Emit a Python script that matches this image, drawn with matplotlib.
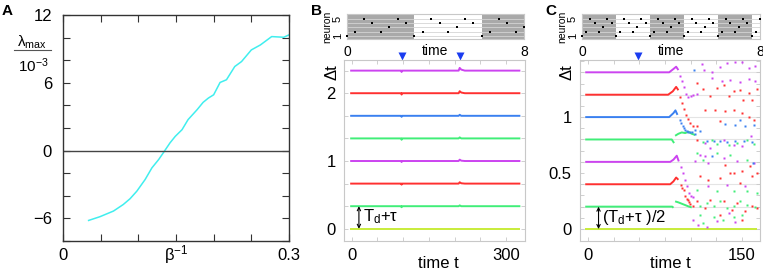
import numpy as np
import matplotlib
matplotlib.use('Agg')
import matplotlib.pyplot as plt
import matplotlib.transforms as mtransforms

plt.rcParams['font.family'] = ['Liberation Sans', 'DejaVu Sans']
plt.rcParams['mathtext.fontset'] = 'custom'
plt.rcParams['mathtext.rm'] = 'Liberation Sans'
plt.rcParams['mathtext.it'] = 'Liberation Sans:italic'
plt.rcParams['mathtext.bf'] = 'Liberation Sans:bold'

# ---------------- data ----------------
# Panel A: largest Lyapunov exponent vs beta^-1
A_x = [0.034, 0.049, 0.067, 0.080, 0.089, 0.098, 0.109, 0.118, 0.127, 0.133,
       0.142, 0.149, 0.158, 0.166, 0.178, 0.186, 0.193, 0.200, 0.2085, 0.217,
       0.228, 0.237, 0.250, 0.262, 0.277, 0.293, 0.300]
A_y = [-6.18, -5.85, -5.35, -4.77, -4.26, -3.59, -2.56, -1.53, -0.79, -0.21,
       0.68, 1.26, 1.85, 2.74, 3.62, 4.27, 4.65, 4.94, 6.03, 6.27,
       7.44, 7.88, 8.91, 9.35, 10.09, 10.03, 10.24]

# raster: firing order of neurons within one block of 8 spikes
spike_order = [1, 2, 5, 4, 2, 3, 5, 4]
B_isi = 8 / 21
C_isi = 8 / 42
B_shaded = [(0, 3.05), (6.1, 8.2)]
C_shaded = [(0, 1.52), (3.05, 4.57), (6.1, 7.62)]

line_colors = ['#c8ec3a', '#40ee78', '#ff3030', '#cc44f0',
               '#40ee78', '#3a80f0', '#ff3030', '#cc44f0']

# Panel B: spike-time differences, perturbed at t=97 and t=210
B_levels = [0, 1/3, 2/3, 1, 4/3, 5/3, 2, 7/3]
B_t = [-3, 96, 97, 98, 208, 210, 213, 220, 328]
B_dev = [
    [0, 0, 0, 0, 0, 0, 0, 0, 0],
    [0, 0, -0.015, 0, 0, 0.012, 0, 0, 0],
    [0, 0, -0.015, 0, 0, 0.02, 0.005, 0, 0],
    [0, 0, -0.015, 0, 0, 0.02, 0.005, 0, 0],
    [0, 0, -0.02, 0, 0, 0.015, 0, 0, 0],
    [0, 0, -0.015, 0, 0, 0.015, 0, 0, 0],
    [0, 0, -0.02, 0, 0, 0.03, 0.01, 0, 0],
    [0, 0, -0.02, 0, 0, 0.04, 0.015, 0, 0],
]
B_kicks = [97, 210]

# Panel C: perturbation at t=49 leads to chaotic dynamics
C_levels = [0, 0.2, 0.4, 0.6, 0.8, 1.0, 1.2, 1.4]
C_kicks = [49]
nan = np.nan
C_solid_t = [
    [-3, 165],
    [-3, 82, 83.2, nan, 84.8, 88, 91.3, 94.6, 97.8, 101],
    [-3, 80, 83.2, 85.8, 88],
    [-3, 80, 83.2, 86.4, 88.4],
    [-3, 81.5, 83.8, nan, 84.8, 88, 91.3, 94.6, 97.8, 101, 104.4],
    [-3, 79, 83.2, 85.1, 87.1],
    [-3, 78, 82.5, 85.8, 88],
    [-3, 79, 83.2, 85.8, 88],
]
C_solid_y = [
    [0, 0],
    [0.2, 0.2, 0.19, nan, 0.247, 0.238, 0.226, 0.214, 0.202, 0.193],
    [0.4, 0.4, 0.426, 0.46, 0.44],
    [0.6, 0.6, 0.62, 0.655, 0.604],
    [0.8, 0.8, 0.768, nan, 0.833, 0.851, 0.863, 0.857, 0.869, 0.851, 0.84],
    [1.0, 1.0, 1.036, 1.06, 1.02],
    [1.2, 1.2, 1.23, 1.27, 1.24],
    [1.4, 1.4, 1.43, 1.45, 1.42],
]
C_dots_t = [
    [],
    [],
    [90.3, 92, 93, 94.9, 96, 97.2, 98.4, 99.5, 102],
    [90.3, 92.3, 94.3, 96.2, 98.2, 100.1, 102.7],
    [],
    [89.7, 91, 92.3, 93.6, 94.9, 96.3, 97.8, 99.4, 101, 104.4],
    [89.7, 91.6, 93.6, 95.6, 97.5, 99.5, 102],
    [89.7, 91.6, 93.6, 95.6, 97.8, 100, 102.7, 106],
]
C_dots_y = [
    [],
    [],
    [0.396, 0.37, 0.345, 0.292, 0.27, 0.256, 0.24, 0.226, 0.208],
    [0.554, 0.5, 0.44, 0.381, 0.321, 0.292, 0.286],
    [],
    [0.97, 0.945, 0.92, 0.9, 0.887, 0.875, 0.866, 0.864, 0.863, 0.85],
    [1.18, 1.125, 1.07, 1.02, 0.98, 0.95, 0.92],
    [1.37, 1.32, 1.27, 1.21, 1.18, 1.185, 1.2, 1.21],
]
# chaotic scatter, by colour
mag_t = [110.9, 113.2, 120.7, 128.8, 135.4, 143.5, 150.0, 156.6, 163.1, 120.7,
         130.5, 138.6, 148.4, 156.6, 163.1, 114.2, 119, 132.1, 141.9, 150.0,
         158.8, 109.3, 114.2, 104.4, 117.4, 132.1, 145.1, 161.4, 117.4, 135.4,
         153.3, 102.7, 107.6, 125.6, 143.5, 137, 115.8]
mag_y = [1.473, 1.417, 1.399, 1.446, 1.482, 1.488, 1.488, 1.437, 1.452, 1.348,
         1.318, 1.333, 1.310, 1.339, 1.318, 0.768, 0.723, 0.798, 0.753, 0.738,
         0.833, 0.664, 0.649, 0.604, 0.589, 0.634, 0.604, 0.589, 0.381, 0.396,
         0.381, 0.083, 0.039, 0.068, 0.060, 0.143, 0.014]
red_t = [106, 112.5, 119, 125.6, 132.1, 137, 141.9, 148.4, 151, 156.6,
         159.8, 164.7, 114.2, 123.9, 133.7, 141.9, 150, 156.6, 161.4, 106,
         128.2, 106, 133.7, 141.9, 150, 158.2, 164.7, 109.3, 117.4, 128.8,
         138.6, 148.4, 159.8, 106, 114.2, 119, 132.1, 140.2, 145.1, 153.3,
         159.8, 164.7, 128.8, 150]
red_y = [1.304, 1.25, 1.185, 1.259, 1.289, 1.19, 1.229, 1.238, 1.155, 1.214,
         1.155, 1.25, 1.065, 1.065, 1.051, 1.065, 1.036, 1.0, 0.97, 0.917,
         0.961, 0.798, 0.574, 0.5, 0.515, 0.56, 0.5, 0.47, 0.44, 0.455,
         0.5, 0.411, 0.47, 0.247, 0.1875, 0.262, 0.247, 0.173, 0.232, 0.158,
         0.202, 0.1875, 0.128, 0.083]
blue_t = [103.7, 148.4, 133.7, 143.5, 153.3, 161.4, 104.4, 109.3, 115.8, 123,
          128.8, 135.4, 143.5, 151.7, 159.8, 120.7, 160.8]
blue_y = [1.423, 0.97, 0.94, 0.932, 0.923, 0.932, 0.881, 0.872, 0.783, 0.783,
          0.789, 0.774, 0.783, 0.789, 0.774, 0.655, 0.589]
green_t = [112.5, 120.7, 125.6, 137, 145.1, 154.9, 161.4, 106, 112.5, 125.6,
           138.6, 154.9, 106, 125.6, 141.9, 154.9, 164.7, 109.3, 115.8, 122.3,
           128.8, 135.4, 141.9, 148.4, 154.9, 163.1, 109.3, 122.3, 141.9, 150,
           112.5, 132]
green_y = [0.774, 0.798, 0.762, 0.753, 0.768, 0.792, 0.762, 0.679, 0.619, 0.679,
           0.664, 0.619, 0.351, 0.336, 0.336, 0.336, 0.321, 0.202, 0.232, 0.202,
           0.247, 0.1875, 0.202, 0.247, 0.217, 0.196, 0.128, 0.107, 0.107, 0.128,
           0.054, 0.083]

# ---------------- figure ----------------
W, H = 763, 271
fig = plt.figure(figsize=(W / 100, H / 100), dpi=100)


def rect(x0, y0, x1, y1):
    return [x0 / W, 1 - y1 / H, (x1 - x0) / W, (y1 - y0) / H]


FS = 12
frame_gray = '#c8c8c8'

# ----- Panel A -----
axA = fig.add_axes(rect(63, 15, 289, 241))
axA.plot(A_x, A_y, color='#40eeee', lw=1.1)
axA.axhline(0, color='#444444', lw=1.0)
axA.set_xlim(0, 0.3)
axA.set_ylim(-8, 12)
axA.set_yticks([-6, 0, 6, 12])
axA.set_yticklabels(['\u22126', '0', '6', '12'])
axA.set_yticks(np.arange(-8, 12.1, 2), minor=True)
axA.set_xticks(np.arange(0, 0.301, 0.05))
axA.set_xticklabels(['0', '', '', '', '', '', '0.3'])
axA.tick_params(which='both', direction='in', top=True, right=True,
                length=5, width=0.8, labelsize=FS, color='#333333')
axA.tick_params(axis='y', pad=8)
axA.tick_params(axis='x', pad=5)
for s in axA.spines.values():
    s.set_color('#333333')
    s.set_linewidth(1.0)
axA.text(0.5, -0.06, '\u03b2$^{-1}$', transform=axA.transAxes,
         ha='center', va='center', fontsize=FS)
fig.text(32 / W, 1 - 42 / H, '\u03bb$_{\\rm max}$', ha='center', va='center', fontsize=11)
fig.add_artist(plt.Line2D([14 / W, 51 / W], [1 - 50 / H, 1 - 50 / H],
                          color='#555555', lw=0.8))
fig.text(33 / W, 1 - 66 / H, '10$^{-3}$', ha='center', va='center', fontsize=11)
fig.text(2 / W, 1 - 11 / H, 'A', fontsize=11, fontweight='bold',
         ha='left', va='center')


def raster(x0, x1, isi, shaded):
    ax = fig.add_axes(rect(x0, 14, x1, 39))
    for a, b in shaded:
        ax.axvspan(a, b, color='#a9a9a9', lw=0, zorder=0)
    for n in range(1, 6):
        ax.axhline(n, color='#d4d4d4', lw=0.6, zorder=1)
    nsp = int(round(8 / isi)) + 1
    times = [k * isi for k in range(nsp)]
    neurons = [spike_order[k % len(spike_order)] for k in range(nsp)]
    ax.scatter(times, neurons, s=3, marker='s', color='black', lw=0,
               zorder=3, clip_on=False)
    ax.set_xlim(0, 8)
    ax.set_ylim(0.3, 6.1)
    ax.set_xticks([0, 8])
    ax.set_xticklabels(['0', '8'])
    ax.set_yticks([1, 5])
    ax.set_yticklabels(['1', '5'], rotation=90, va='center')
    ax.tick_params(axis='x', length=0, labelsize=10, pad=4)
    ax.tick_params(axis='y', length=0, labelsize=8, pad=3)
    for s in ax.spines.values():
        s.set_color(frame_gray)
        s.set_linewidth(0.8)
    ax.text(0.5, -0.2, 'time', transform=ax.transAxes, ha='center',
            va='top', fontsize=10)
    ax.text(-0.11, 0.5, 'neuron', transform=ax.transAxes, rotation=90,
            ha='center', va='center', fontsize=7.5)
    return ax


raster(347, 524, B_isi, B_shaded)
raster(582, 760, C_isi, C_shaded)
fig.text(316 / W, 1 - 11 / H, 'B', fontsize=11, fontweight='bold',
         ha='center', va='center')
fig.text(551 / W, 1 - 11 / H, 'C', fontsize=11, fontweight='bold',
         ha='center', va='center')


def style_main(ax):
    for s in ax.spines.values():
        s.set_color(frame_gray)
        s.set_linewidth(0.8)
    ax.tick_params(which='both', direction='in', top=True, right=True,
                   color=frame_gray, labelsize=FS, length=3, width=0.6)
    ax.tick_params(axis='y', pad=6)
    ax.tick_params(axis='x', pad=5)


# ----- Panel B -----
axB = fig.add_axes(rect(344, 60, 525, 241))
for lev, dev, c in zip(B_levels, B_dev, line_colors):
    axB.plot(B_t, [lev + d for d in dev], color=c, lw=1.4,
             solid_capstyle='butt')
axB.set_xlim(-15, 337)
axB.set_ylim(-0.18, 2.49)
axB.set_yticks([0, 1, 2])
axB.set_yticks(B_levels, minor=True)
axB.set_xticks([0, 300])
axB.set_xticks(np.arange(0, 330, 50), minor=True)
style_main(axB)
trB = mtransforms.blended_transform_factory(axB.transData, axB.transAxes)
axB.plot(B_kicks, [1.022] * len(B_kicks), 'v', color='#1a3cf0', ms=6,
         transform=trB, clip_on=False, mec='none')
axB.annotate('', xy=(14, 0), xytext=(14, 1 / 3),
             arrowprops=dict(arrowstyle='<->', lw=0.8, color='black',
                             shrinkA=0, shrinkB=0, mutation_scale=6))
axB.text(22, 1 / 6 + 0.01, 'T$_{\\rm d}$+\u03c4', fontsize=FS, va='center', ha='left')
axB.text(-0.066, 0.934, '\u0394t', transform=axB.transAxes, rotation=90,
         ha='center', va='center', fontsize=FS)
axB.text(0.52, -0.085, 'time t', transform=axB.transAxes, ha='center',
         va='top', fontsize=FS)

# ----- Panel C -----
axC = fig.add_axes(rect(580, 60, 760, 241))
for lev in C_levels:
    axC.axhline(lev, color='#e4e4e4', lw=0.8, zorder=0)
for st, sy, dt, dy, c in zip(C_solid_t, C_solid_y, C_dots_t, C_dots_y, line_colors):
    axC.plot(st, sy, color=c, lw=1.4, solid_capstyle='butt')
    if dt:
        axC.plot(dt, dy, 's', color=c, ms=1.9, mec='none')
axC.plot(mag_t, mag_y, 's', color=line_colors[3], ms=1.9, mec='none')
axC.plot(red_t, red_y, 's', color=line_colors[2], ms=1.9, mec='none')
axC.plot(blue_t, blue_y, 's', color=line_colors[5], ms=1.9, mec='none')
axC.plot(green_t, green_y, 's', color=line_colors[1], ms=1.9, mec='none')
axC.set_xlim(-8.1, 167.7)
axC.set_ylim(-0.107, 1.51)
axC.set_yticks([0, 0.5, 1])
axC.set_yticklabels(['0', '0.5', '1'])
axC.set_yticks(np.arange(0, 1.51, 0.1), minor=True)
axC.set_xticks([0, 150])
axC.set_xticks(np.arange(0, 166, 25), minor=True)
style_main(axC)
trC = mtransforms.blended_transform_factory(axC.transData, axC.transAxes)
axC.plot(C_kicks, [1.022] * len(C_kicks), 'v', color='#1a3cf0', ms=6,
         transform=trC, clip_on=False, mec='none')
axC.annotate('', xy=(10, 0), xytext=(10, 0.2),
             arrowprops=dict(arrowstyle='<->', lw=0.8, color='black',
                             shrinkA=0, shrinkB=0, mutation_scale=6))
axC.text(13, 0.1 + 0.005, '(T$_{\\rm d}$+\u03c4 )/2', fontsize=FS, va='center', ha='left')
axC.text(-0.072, 0.934, '\u0394t', transform=axC.transAxes, rotation=90,
         ha='center', va='center', fontsize=FS)
axC.text(0.5, -0.085, 'time t', transform=axC.transAxes, ha='center',
         va='top', fontsize=FS)

fig.savefig('out.png', dpi=100)
